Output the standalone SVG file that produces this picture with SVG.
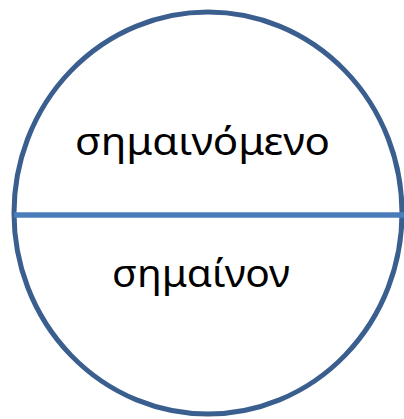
<svg xmlns="http://www.w3.org/2000/svg" width="404" height="419" viewBox="0 0 404 419">
<style>
.lbl{font-family:"Noto Sans","Liberation Sans",sans-serif;font-size:38px;fill:#000;text-anchor:middle}
</style>
<rect width="404" height="419" fill="#fff"/>
<g id="circle">
<ellipse cx="208" cy="213" rx="194" ry="201" fill="none" stroke="#3a5f8f" stroke-width="5"/>
</g>
<g id="connectors">
<line x1="14" y1="215" x2="404" y2="215" stroke="#4a7ebb" stroke-width="5.5"/>
</g>
<g id="signified">
<text class="lbl" x="202.5" y="155" textLength="255" lengthAdjust="spacingAndGlyphs">σημαινόμενο</text>
</g>
<g id="signifier">
<text class="lbl" x="201" y="287" textLength="178" lengthAdjust="spacingAndGlyphs">σημαίνον</text>
</g>
</svg>
